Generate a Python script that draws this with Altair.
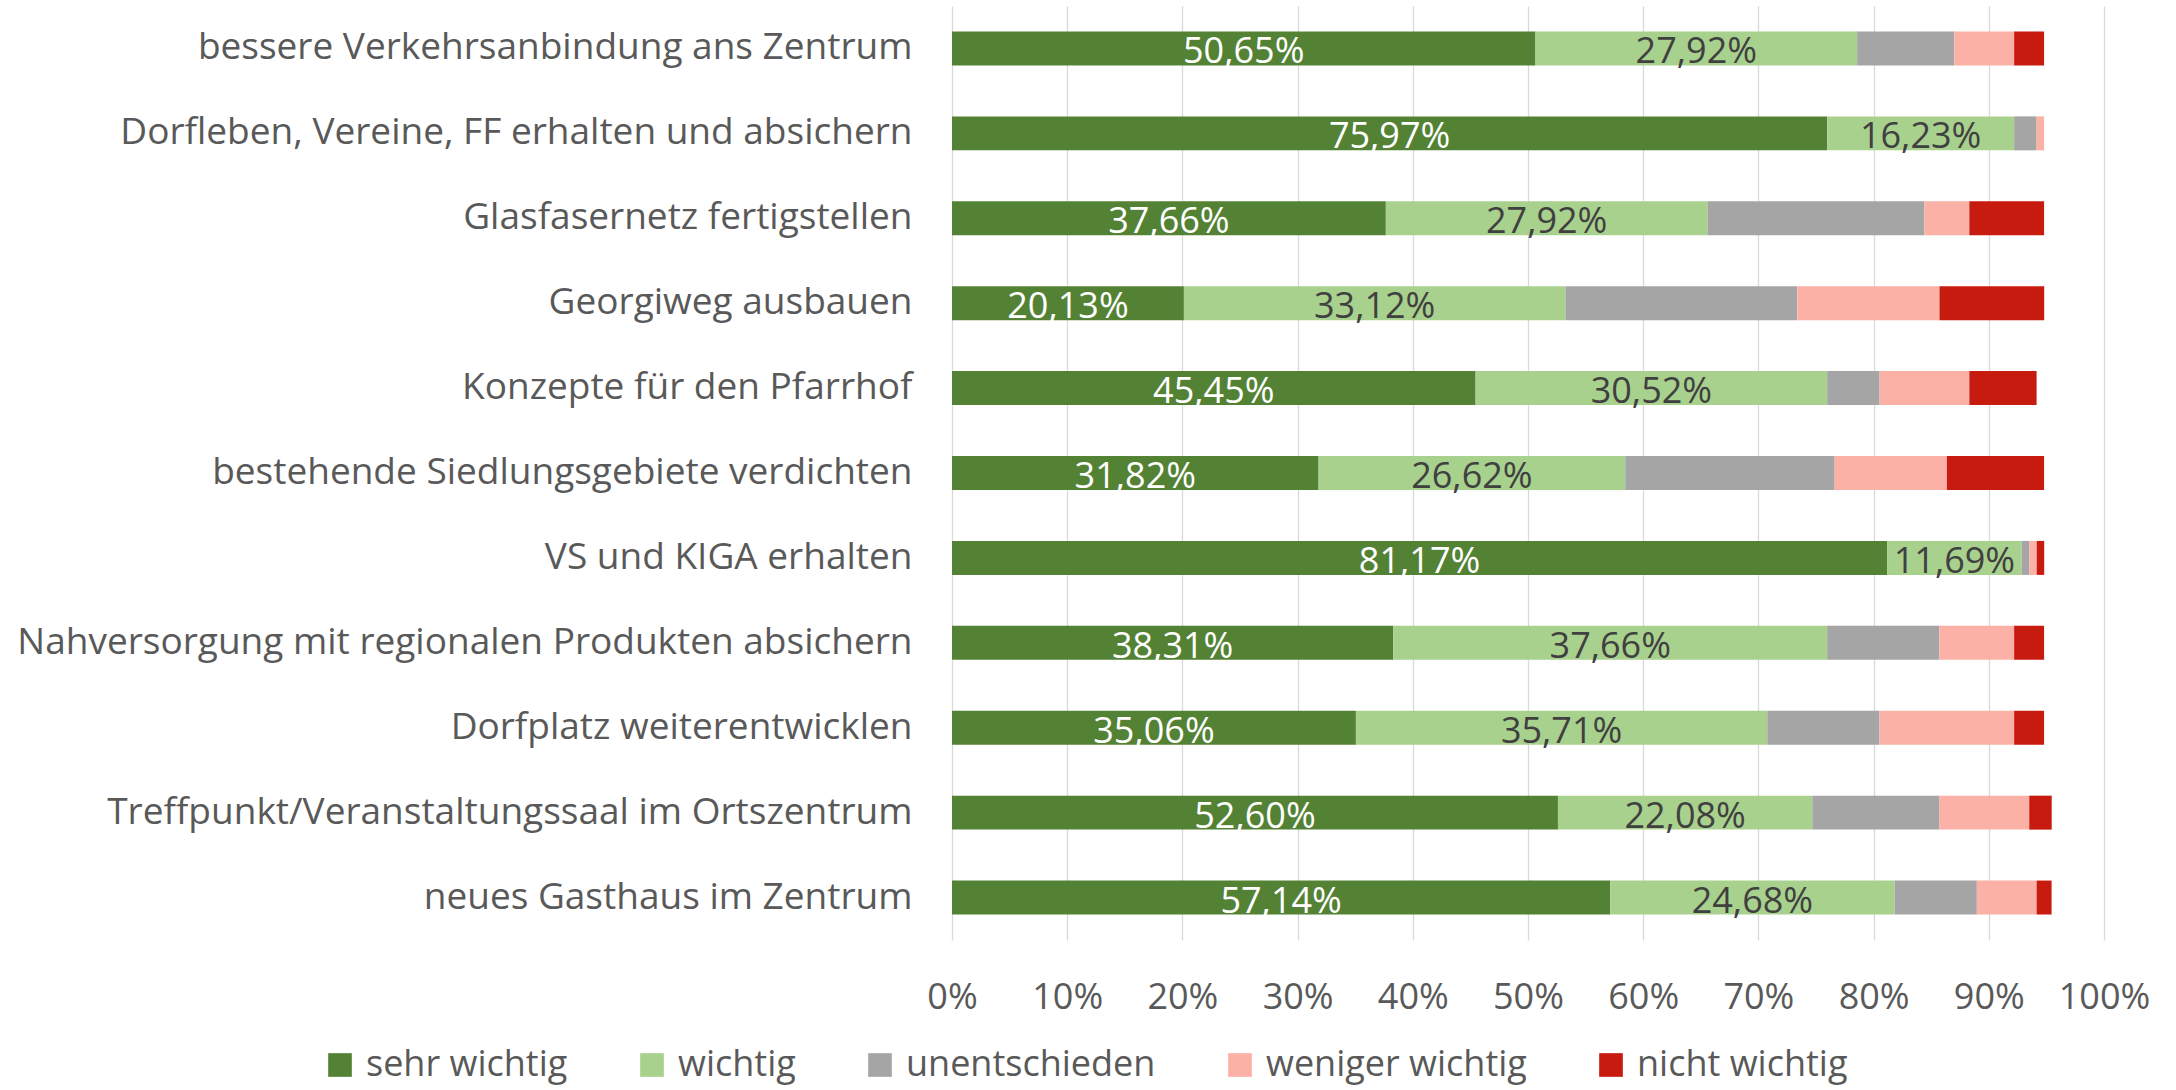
import altair as alt
import pandas as pd

categories = [
    "bessere Verkehrsanbindung ans Zentrum",
    "Dorfleben, Vereine, FF erhalten und absichern",
    "Glasfasernetz fertigstellen",
    "Georgiweg ausbauen",
    "Konzepte für den Pfarrhof",
    "bestehende Siedlungsgebiete verdichten",
    "VS und KIGA erhalten",
    "Nahversorgung mit regionalen Produkten absichern",
    "Dorfplatz weiterentwicklen",
    "Treffpunkt/Veranstaltungssaal im Ortszentrum",
    "neues Gasthaus im Zentrum",
]
series = ["sehr wichtig", "wichtig", "unentschieden", "weniger wichtig", "nicht wichtig"]
colors = ["#548235", "#A9D18E", "#A5A5A5", "#FBB1A5", "#C81B10"]

sehr_wichtig = [50.65, 75.97, 37.66, 20.13, 45.45, 31.82, 81.17, 38.31, 35.06, 52.60, 57.14]
wichtig = [27.92, 16.23, 27.92, 33.12, 30.52, 26.62, 11.69, 37.66, 35.71, 22.08, 24.68]
unentschieden = [8.44, 1.95, 18.83, 20.13, 4.55, 18.18, 0.65, 9.74, 9.74, 11.04, 7.14]
weniger_wichtig = [5.19, 0.65, 3.90, 12.34, 7.79, 9.74, 0.65, 6.49, 11.69, 7.79, 5.19]
nicht_wichtig = [2.60, 0.00, 6.49, 9.09, 5.84, 8.44, 0.65, 2.60, 2.60, 1.95, 1.30]

tick_values = [0, 10, 20, 30, 40, 50, 60, 70, 80, 90, 100]

values = [sehr_wichtig, wichtig, unentschieden, weniger_wichtig, nicht_wichtig]
rows = []
for ci, cat in enumerate(categories):
    start = 0.0
    for si, s in enumerate(series):
        v = values[si][ci]
        rows.append({
            "cat": cat, "series": s, "order": si, "value": v,
            "start": start, "end": start + v, "mid": start + v / 2,
            "label": (f"{v:.2f}".replace(".", ",") + "%") if si < 2 else "",
            "labelColor": "white" if si == 0 else "#404040",
        })
        start += v
df = pd.DataFrame(rows)

FONT = "Open Sans"
FS = 36

y_enc = alt.Y("cat:N", sort=categories, title=None,
              scale=alt.Scale(paddingInner=0.6, paddingOuter=0.3),
              axis=alt.Axis(labelFontSize=37, labelFont=FONT, labelColor="#595959",
                            labelPadding=40, ticks=False, domain=False, labelLimit=1000))
x_scale = alt.Scale(domain=[0, 100], nice=False)

bars = alt.Chart(df).mark_bar().encode(
    x=alt.X("start:Q", scale=x_scale, title=None,
            axis=alt.Axis(values=tick_values, labelExpr="datum.value + '%'",
                          labelFontSize=FS, labelFont=FONT, labelColor="#595959",
                          labelPadding=40, ticks=False, domain=False,
                          labelOverlap=False, labelFlush=False, labelBound=False,
                          grid=True, gridColor="#D9D9D9", gridWidth=1.3)),
    x2="end:Q",
    y=y_enc,
    color=alt.Color("series:N", sort=series,
                    scale=alt.Scale(domain=series, range=colors),
                    legend=alt.Legend(title=None, orient="none", direction="horizontal",
                                      legendX=-630, legendY=1041,
                                      symbolType="square", symbolSize=560,
                                      symbolStrokeWidth=0, labelLimit=1000,
                                      labelFontSize=FS, labelFont=FONT, labelColor="#595959",
                                      columnPadding=66, labelOffset=8, columns=5)),
    order=alt.Order("order:Q"),
)

texts = alt.Chart(df).transform_filter("datum.order < 2").mark_text(
    font=FONT, fontSize=FS, baseline="middle", align="center", dy=4
).encode(
    x=alt.X("mid:Q", scale=x_scale),
    y=alt.Y("cat:N", sort=categories),
    text="label:N",
    color=alt.Color("labelColor:N", scale=None, legend=None),
)

chart = alt.layer(bars, texts).properties(
    width=1152, height=934,
    padding={"left": 952, "top": 6, "right": 72, "bottom": 150},
    autosize=alt.AutoSizeParams(type="none"),
    background="white",
).configure_view(stroke=None)

chart.save("out.html", embed_options={"renderer": "svg", "actions": False})
